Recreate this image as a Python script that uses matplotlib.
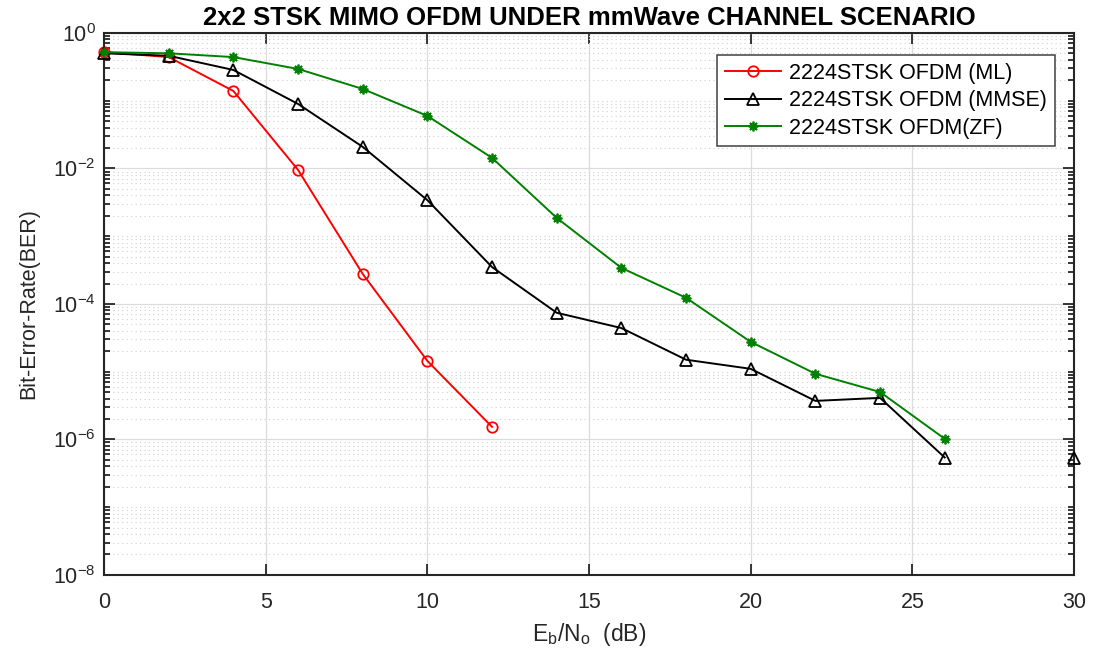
import numpy as np
import matplotlib
matplotlib.use("Agg")
import matplotlib.pyplot as plt
from matplotlib.ticker import LogLocator, NullFormatter, MultipleLocator

plt.rcParams['font.family'] = ['Liberation Sans', 'DejaVu Sans']
plt.rcParams['mathtext.default'] = 'regular'
plt.rcParams['axes.unicode_minus'] = False

# Eb/No in dB
snr = np.array([0, 2, 4, 6, 8, 10, 12, 14, 16, 18, 20, 22, 24, 26, 28, 30])

# BER values (nan = not plotted)
ber_ml = [0.52, 0.44, 0.139, 0.0095, 2.77e-4, 1.44e-5, 1.53e-6,
          np.nan, np.nan, np.nan, np.nan, np.nan, np.nan, np.nan, np.nan, np.nan]
ber_mmse = [0.50, 0.46, 0.284, 0.0895, 0.0208, 3.4e-3, 3.5e-4, 7.4e-5,
            4.4e-5, 1.5e-5, 1.1e-5, 3.7e-6, 4.1e-6, 5.4e-7, np.nan, 5.4e-7]
ber_zf = [0.52, 0.50, 0.44, 0.294, 0.149, 0.0596, 0.0143, 1.86e-3,
          3.4e-4, 1.23e-4, 2.75e-5, 9.3e-6, 5.0e-6, 1.02e-6, np.nan, np.nan]

labels = ['2224STSK OFDM (ML)', '2224STSK OFDM (MMSE)', '2224STSK OFDM(ZF)']
yticks = [1e-8, 1e-6, 1e-4, 1e-2, 1]

fig = plt.figure(figsize=(10.96, 6.57), dpi=100)
ax = fig.add_axes([0.0949, 0.125, 0.8851, 0.8249])

ax.semilogy(snr, ber_ml, '-o', color='red', lw=1.4, ms=7.5, mfc='none', mew=1.3,
            label=labels[0], clip_on=False, zorder=3)
ax.semilogy(snr, ber_mmse, '-^', color='black', lw=1.4, ms=9, mfc='none', mew=1.3,
            label=labels[1], clip_on=False, zorder=3)
ax.semilogy(snr, ber_zf, '-', marker=(8, 2, 0), color=(0, 0.5, 0), lw=1.4, ms=7,
            mew=1.3, label=labels[2], clip_on=False, zorder=3)

ax.set_xlim(0, 30)
ax.set_ylim(1e-8, 1)
ax.xaxis.set_major_locator(MultipleLocator(5))
ax.set_yticks(yticks)
ax.yaxis.set_minor_locator(LogLocator(base=10, subs=np.arange(1, 10), numticks=20))
ax.yaxis.set_minor_formatter(NullFormatter())

ax.grid(True, which='major', color='#dcdcdc', lw=0.9, ls='-')
ax.grid(True, which='minor', axis='y', color='#cfcfcf', lw=0.8, ls=(0, (1, 3)))
ax.set_axisbelow(True)

for s in ax.spines.values():
    s.set_color('#262626')
    s.set_linewidth(1.5)
ax.tick_params(which='both', direction='in', top=True, right=True,
               colors='#262626', labelsize=15.5, width=1.3)
ax.tick_params(which='major', length=8)
ax.tick_params(axis='x', which='major', pad=12)
ax.tick_params(axis='y', which='major', pad=6)
ax.tick_params(which='minor', length=4.5)

ax.set_title('2x2 STSK MIMO OFDM UNDER mmWave CHANNEL SCENARIO',
             fontsize=18.5, fontweight='bold', pad=6)
ax.set_xlabel(r'E$_b$/N$_o$  (dB)', fontsize=16.5, color='#262626', labelpad=6)
ax.set_ylabel('Bit-Error-Rate(BER)', fontsize=15.5, color='#262626', labelpad=10)

leg = ax.legend(loc='upper right', bbox_to_anchor=(0.980, 0.959), borderaxespad=0,
                fontsize=15.5, fancybox=False, framealpha=1, edgecolor='#404040',
                handlelength=2.6, borderpad=0.35, labelspacing=0.3, handletextpad=0.4)
leg.get_frame().set_linewidth(1.1)

fig.savefig('out.png', dpi=100)
